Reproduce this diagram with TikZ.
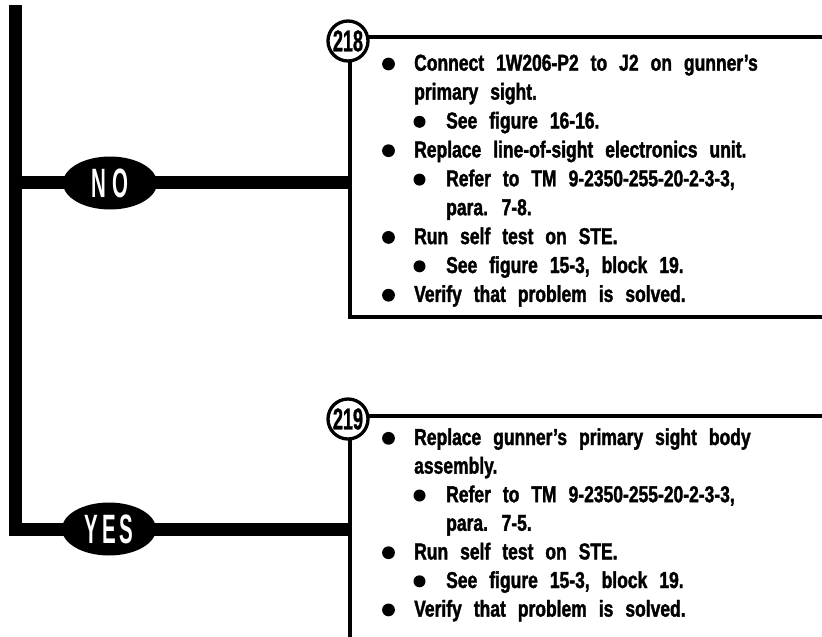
\documentclass[tikz,border=0pt]{standalone}
\usepackage{fontspec}
\setmainfont{Liberation Sans}
\newfontfamily\condfont{Liberation Sans}[FakeStretch=0.76,FakeBold=1.6]
\newfontfamily\tagfont{Liberation Sans}[FakeStretch=0.5]
\newfontfamily\numfont{Liberation Sans}[FakeStretch=0.6,FakeBold=1]
\newcommand\wsp{\spaceskip=12pt\relax}
\usetikzlibrary{backgrounds,shapes.geometric}
\begin{document}
\begin{tikzpicture}[x=1pt,y=-1pt,
  bar/.style={line width=13pt, line join=miter},
  rule/.style={line width=3.4pt, line join=miter},
  choice/.style={ellipse, fill=black, minimum width=94pt, minimum height=53pt,
    inner sep=0pt, text=white, font=\tagfont\bfseries\fontsize{41}{41}\selectfont},
  stepnum/.style={circle, draw, line width=3.3pt, fill=white, minimum size=40pt,
    inner sep=0pt, font=\numfont\bfseries\fontsize{30}{30}\selectfont},
  item/.style={anchor=base west, inner sep=0pt,
    font=\condfont\bfseries\fontsize{23}{29}\selectfont},
  dot/.style={fill=black}]
\useasboundingbox (0,0) rectangle (822,637);
\clip (0,0) rectangle (822,637);

% decision labels and step numbers
\node[choice] (no) at (110,183) {N\kern6pt O};
\node[choice] (yes) at (109,529) {Y\kern4pt E\kern4pt S};
\node[stepnum] (s218) at (348,41) {218};
\node[stepnum] (s219) at (348,419) {219};

% flow bars and step boxes
\coordinate (top) at (15.5,5);
\coordinate (noin) at (15.5,182);
\coordinate (box218) at (350,182);
\coordinate (box219) at (350,529);
\begin{scope}[on background layer]
  \draw[bar] (top) |- (box219);
  \draw[bar] (noin) -- (box218);
  \draw[rule] (827,37) -- (350,37) -- (350,317) -- (827,317);
  \draw[rule] (827,416) -- (350,416) -- (350,645);
  \draw[rule, black!60] (350,638.5) -- (827,638.5);
\end{scope}

% step 218
\node[item] (a1) at (414,70.7)  {\wsp Connect 1W206-P2 to J2 on gunner’s};
\node[item] (a2) at (414,99.6)  {\wsp primary sight.};
\node[item] (a3) at (446,128.5) {\wsp See figure 16-16.};
\node[item] (a4) at (414,157.4) {\wsp Replace line-of-sight electronics unit.};
\node[item] (a5) at (446,186.3) {\wsp Refer to TM 9-2350-255-20-2-3-3,};
\node[item] (a6) at (446,215.2) {\wsp para. 7-8.};
\node[item] (a7) at (414,244.1) {\wsp Run self test on STE.};
\node[item] (a8) at (446,273.0) {\wsp See figure 15-3, block 19.};
\node[item] (a9) at (414,301.9) {\wsp Verify that problem is solved.};
\foreach \y in {70.7,157.4,244.1,301.9} \fill[dot] (388.5,\y-6.7) circle (6.4);
\foreach \y in {128.5,186.3,273.0} \fill[dot] (419.5,\y-6.7) circle (6);

% step 219
\node[item] (b1) at (414,445.0) {\wsp Replace gunner’s primary sight body};
\node[item] (b2) at (414,473.6) {\wsp assembly.};
\node[item] (b3) at (446,502.2) {\wsp Refer to TM 9-2350-255-20-2-3-3,};
\node[item] (b4) at (446,530.8) {\wsp para. 7-5.};
\node[item] (b5) at (414,559.4) {\wsp Run self test on STE.};
\node[item] (b6) at (446,588.0) {\wsp See figure 15-3, block 19.};
\node[item] (b7) at (414,616.6) {\wsp Verify that problem is solved.};
\foreach \y in {445.0,559.4,616.6} \fill[dot] (388.5,\y-6.7) circle (6.4);
\foreach \y in {502.2,588.0} \fill[dot] (419.5,\y-6.7) circle (6);
\end{tikzpicture}
\end{document}
